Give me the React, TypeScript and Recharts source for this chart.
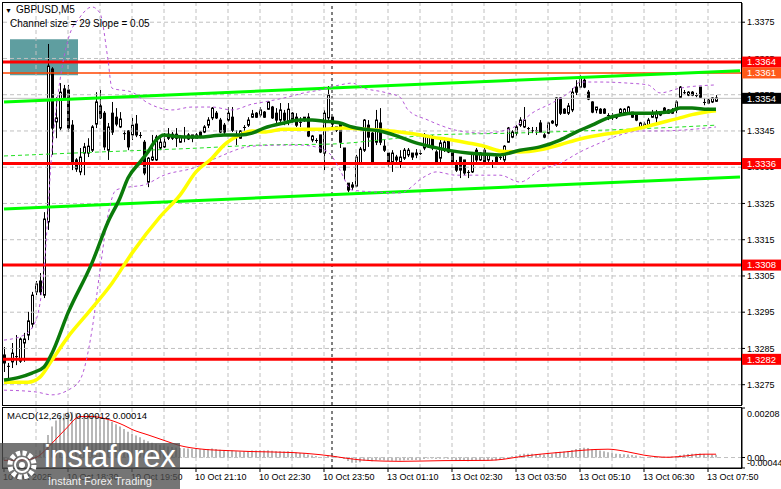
import React from 'react';
import { ComposedChart, Bar, Line, XAxis, YAxis, ReferenceLine, ReferenceArea } from 'recharts';

const FONT = "'Liberation Sans', Arial, sans-serif";

// ---- candles (GBPUSD M5) ----
const opens = [
  1.32832, 1.32802, 1.32813, 1.32826, 1.32815, 1.32865, 1.32887, 1.32917, 1.33006, 1.33036,
  1.32997, 1.33199, 1.33621, 1.33475, 1.33458, 1.33566, 1.33563, 1.33466, 1.33370, 1.33337,
  1.33389, 1.33389, 1.33397, 1.33469, 1.33519, 1.33499, 1.33397, 1.33499, 1.33488, 1.33461,
  1.33444, 1.33450, 1.33439, 1.33469, 1.33439, 1.33419, 1.33309, 1.33370, 1.33370, 1.33403,
  1.33406, 1.33441, 1.33441, 1.33441, 1.33419, 1.33433, 1.33428, 1.33430, 1.33430, 1.33447,
  1.33447, 1.33466, 1.33486, 1.33499, 1.33480, 1.33466, 1.33480, 1.33488, 1.33439, 1.33430,
  1.33458, 1.33466, 1.33488, 1.33499, 1.33494, 1.33502, 1.33510, 1.33516, 1.33499, 1.33480,
  1.33499, 1.33475, 1.33499, 1.33488, 1.33475, 1.33488, 1.33488, 1.33425, 1.33425, 1.33439,
  1.33389, 1.33486, 1.33488, 1.33452, 1.33472, 1.33403, 1.33306, 1.33295, 1.33298, 1.33361,
  1.33397, 1.33466, 1.33444, 1.33419, 1.33472, 1.33408, 1.33389, 1.33364, 1.33378, 1.33364,
  1.33375, 1.33384, 1.33389, 1.33389, 1.33389, 1.33403, 1.33406, 1.33433, 1.33392, 1.33375,
  1.33397, 1.33425, 1.33392, 1.33361, 1.33378, 1.33370, 1.33334, 1.33337, 1.33397, 1.33370,
  1.33397, 1.33370, 1.33361, 1.33378, 1.33375, 1.33370, 1.33419, 1.33433, 1.33444, 1.33466,
  1.33461, 1.33458, 1.33452, 1.33452, 1.33472, 1.33439, 1.33444, 1.33472, 1.33466, 1.33541,
  1.33510, 1.33499, 1.33508, 1.33571, 1.33571, 1.33590, 1.33557, 1.33530, 1.33508, 1.33510,
  1.33510, 1.33494, 1.33488, 1.33488, 1.33499, 1.33499, 1.33499, 1.33502, 1.33494, 1.33461,
  1.33461, 1.33466, 1.33488, 1.33486, 1.33494, 1.33513, 1.33499, 1.33499, 1.33508, 1.33543,
  1.33555, 1.33549, 1.33557, 1.33549, 1.33571, 1.33530, 1.33535, 1.33530, 1.33532,
];
const highs = [
  1.32854, 1.32810, 1.32865, 1.32887, 1.32880, 1.32893, 1.32951, 1.33006, 1.33036, 1.33058,
  1.33226, 1.33690, 1.33626, 1.33543, 1.33582, 1.33577, 1.33577, 1.33480, 1.33375, 1.33403,
  1.33417, 1.33430, 1.33466, 1.33557, 1.33563, 1.33505, 1.33472, 1.33530, 1.33513, 1.33502,
  1.33452, 1.33452, 1.33486, 1.33494, 1.33447, 1.33425, 1.33378, 1.33439, 1.33439, 1.33430,
  1.33444, 1.33458, 1.33447, 1.33458, 1.33439, 1.33461, 1.33444, 1.33439, 1.33444, 1.33450,
  1.33466, 1.33488, 1.33516, 1.33505, 1.33486, 1.33472, 1.33516, 1.33516, 1.33452, 1.33452,
  1.33466, 1.33488, 1.33508, 1.33502, 1.33516, 1.33505, 1.33532, 1.33519, 1.33513, 1.33527,
  1.33508, 1.33527, 1.33502, 1.33499, 1.33488, 1.33488, 1.33499, 1.33439, 1.33430, 1.33439,
  1.33508, 1.33574, 1.33488, 1.33461, 1.33472, 1.33403, 1.33306, 1.33309, 1.33384, 1.33406,
  1.33483, 1.33480, 1.33447, 1.33508, 1.33513, 1.33425, 1.33389, 1.33397, 1.33384, 1.33397,
  1.33403, 1.33403, 1.33389, 1.33400, 1.33397, 1.33444, 1.33439, 1.33439, 1.33397, 1.33425,
  1.33433, 1.33430, 1.33397, 1.33370, 1.33378, 1.33370, 1.33342, 1.33392, 1.33403, 1.33392,
  1.33403, 1.33389, 1.33370, 1.33381, 1.33384, 1.33411, 1.33461, 1.33452, 1.33466, 1.33488,
  1.33516, 1.33461, 1.33461, 1.33461, 1.33480, 1.33444, 1.33475, 1.33480, 1.33543, 1.33543,
  1.33513, 1.33527, 1.33568, 1.33590, 1.33604, 1.33596, 1.33563, 1.33532, 1.33516, 1.33513,
  1.33513, 1.33499, 1.33499, 1.33491, 1.33513, 1.33513, 1.33519, 1.33502, 1.33497, 1.33475,
  1.33475, 1.33486, 1.33508, 1.33508, 1.33505, 1.33516, 1.33510, 1.33513, 1.33535, 1.33574,
  1.33563, 1.33560, 1.33560, 1.33555, 1.33571, 1.33541, 1.33538, 1.33543, 1.33549,
];
const lows = [
  1.32785, 1.32757, 1.32796, 1.32804, 1.32810, 1.32813, 1.32873, 1.32906, 1.32997, 1.32997,
  1.32989, 1.33177, 1.33384, 1.33430, 1.33452, 1.33535, 1.33447, 1.33342, 1.33337, 1.33328,
  1.33328, 1.33378, 1.33392, 1.33458, 1.33483, 1.33397, 1.33370, 1.33439, 1.33463, 1.33458,
  1.33425, 1.33397, 1.33425, 1.33433, 1.33430, 1.33328, 1.33295, 1.33367, 1.33367, 1.33397,
  1.33403, 1.33425, 1.33425, 1.33406, 1.33417, 1.33419, 1.33425, 1.33419, 1.33428, 1.33430,
  1.33444, 1.33458, 1.33480, 1.33483, 1.33444, 1.33441, 1.33475, 1.33447, 1.33411, 1.33428,
  1.33450, 1.33461, 1.33486, 1.33486, 1.33488, 1.33486, 1.33508, 1.33483, 1.33472, 1.33475,
  1.33466, 1.33466, 1.33472, 1.33461, 1.33461, 1.33475, 1.33433, 1.33419, 1.33417, 1.33389,
  1.33342, 1.33480, 1.33461, 1.33447, 1.33403, 1.33315, 1.33281, 1.33287, 1.33295, 1.33356,
  1.33392, 1.33406, 1.33356, 1.33411, 1.33411, 1.33392, 1.33350, 1.33337, 1.33361, 1.33348,
  1.33370, 1.33378, 1.33370, 1.33375, 1.33384, 1.33397, 1.33403, 1.33397, 1.33356, 1.33361,
  1.33392, 1.33389, 1.33356, 1.33337, 1.33320, 1.33328, 1.33320, 1.33334, 1.33361, 1.33367,
  1.33356, 1.33361, 1.33348, 1.33359, 1.33370, 1.33361, 1.33417, 1.33430, 1.33436, 1.33461,
  1.33458, 1.33439, 1.33444, 1.33439, 1.33447, 1.33430, 1.33441, 1.33469, 1.33461, 1.33494,
  1.33497, 1.33494, 1.33502, 1.33549, 1.33568, 1.33568, 1.33535, 1.33499, 1.33499, 1.33497,
  1.33497, 1.33480, 1.33480, 1.33483, 1.33497, 1.33497, 1.33497, 1.33486, 1.33477, 1.33458,
  1.33458, 1.33461, 1.33486, 1.33472, 1.33491, 1.33499, 1.33497, 1.33497, 1.33499, 1.33541,
  1.33552, 1.33546, 1.33546, 1.33543, 1.33541, 1.33521, 1.33524, 1.33527, 1.33530,
];
const closes = [
  1.32810, 1.32799, 1.32837, 1.32829, 1.32876, 1.32876, 1.32926, 1.32997, 1.33028, 1.33006,
  1.33207, 1.33629, 1.33458, 1.33486, 1.33557, 1.33541, 1.33458, 1.33361, 1.33345, 1.33378,
  1.33406, 1.33408, 1.33461, 1.33530, 1.33486, 1.33406, 1.33461, 1.33447, 1.33469, 1.33483,
  1.33441, 1.33406, 1.33466, 1.33439, 1.33436, 1.33334, 1.33375, 1.33378, 1.33433, 1.33419,
  1.33419, 1.33430, 1.33430, 1.33430, 1.33433, 1.33436, 1.33439, 1.33439, 1.33439, 1.33433,
  1.33461, 1.33480, 1.33513, 1.33486, 1.33447, 1.33447, 1.33499, 1.33452, 1.33436, 1.33450,
  1.33461, 1.33480, 1.33497, 1.33488, 1.33508, 1.33488, 1.33530, 1.33486, 1.33480, 1.33508,
  1.33480, 1.33510, 1.33477, 1.33466, 1.33472, 1.33480, 1.33436, 1.33436, 1.33422, 1.33392,
  1.33499, 1.33549, 1.33469, 1.33461, 1.33419, 1.33342, 1.33287, 1.33301, 1.33378, 1.33400,
  1.33480, 1.33433, 1.33361, 1.33480, 1.33419, 1.33397, 1.33364, 1.33389, 1.33370, 1.33378,
  1.33397, 1.33397, 1.33378, 1.33384, 1.33386, 1.33439, 1.33433, 1.33403, 1.33364, 1.33417,
  1.33419, 1.33392, 1.33361, 1.33342, 1.33342, 1.33334, 1.33337, 1.33389, 1.33370, 1.33389,
  1.33361, 1.33384, 1.33364, 1.33361, 1.33378, 1.33408, 1.33458, 1.33447, 1.33461, 1.33480,
  1.33480, 1.33455, 1.33450, 1.33450, 1.33447, 1.33433, 1.33472, 1.33477, 1.33541, 1.33499,
  1.33499, 1.33519, 1.33557, 1.33557, 1.33599, 1.33571, 1.33538, 1.33502, 1.33516, 1.33499,
  1.33499, 1.33491, 1.33486, 1.33486, 1.33510, 1.33510, 1.33516, 1.33488, 1.33480, 1.33472,
  1.33469, 1.33480, 1.33499, 1.33499, 1.33502, 1.33502, 1.33508, 1.33508, 1.33530, 1.33571,
  1.33557, 1.33557, 1.33549, 1.33546, 1.33543, 1.33527, 1.33527, 1.33541, 1.33541,
];

// ---- indicator lines (read at sample candles) ----
const maFastIdx = [0, 4, 7, 10, 12, 16, 22, 26, 29, 31, 34, 36, 38, 40, 42, 45, 49, 52, 55, 59, 62, 65, 70, 74, 77, 80, 84, 87, 90, 94, 99, 103, 107, 112, 116, 120, 124, 129, 134, 139, 143, 147, 151, 154, 157, 162, 166, 169, 172, 176, 178];
const maFastVal = [1.32763, 1.32771, 1.32782, 1.32799, 1.32837, 1.32948, 1.33086, 1.33199, 1.33265, 1.33320, 1.33364, 1.33392, 1.33425, 1.33439, 1.33436, 1.33433, 1.33433, 1.33436, 1.33439, 1.33439, 1.33444, 1.33458, 1.33472, 1.33480, 1.33480, 1.33477, 1.33472, 1.33461, 1.33455, 1.33450, 1.33433, 1.33417, 1.33406, 1.33395, 1.33389, 1.33386, 1.33384, 1.33397, 1.33406, 1.33425, 1.33447, 1.33466, 1.33486, 1.33494, 1.33499, 1.33499, 1.33502, 1.33513, 1.33513, 1.33510, 1.33510];

const maSlowIdx = [0, 6, 9, 12, 16, 21, 27, 32, 39, 44, 48, 52, 55, 59, 62, 65, 70, 77, 80, 85, 90, 95, 99, 103, 107, 112, 116, 120, 124, 129, 134, 139, 144, 149, 154, 159, 164, 169, 172, 176, 178];
const maSlowVal = [1.32757, 1.32757, 1.32771, 1.32818, 1.32882, 1.32948, 1.33030, 1.33113, 1.33213, 1.33273, 1.33337, 1.33375, 1.33411, 1.33439, 1.33450, 1.33447, 1.33455, 1.33455, 1.33455, 1.33458, 1.33455, 1.33452, 1.33447, 1.33441, 1.33433, 1.33425, 1.33417, 1.33408, 1.33395, 1.33392, 1.33398, 1.33412, 1.33428, 1.33439, 1.33447, 1.33458, 1.33472, 1.33486, 1.33495, 1.33503, 1.33506];

const maDashIdx = [0, 24, 49, 64, 82, 94, 107, 127, 149, 169, 178];
const maDashVal = [1.33381, 1.33392, 1.33403, 1.33411, 1.33414, 1.33425, 1.33439, 1.33444, 1.33452, 1.33461, 1.33466];

const bandUpIdx = [0, 5, 8, 10, 12, 14, 16, 19, 22, 24, 26, 27, 32, 36, 42, 47, 52, 57, 62, 65, 70, 75, 79, 84, 87, 90, 95, 99, 101, 106, 109, 113, 120, 127, 129, 132, 137, 142, 144, 149, 156, 161, 164, 169, 178];
const bandUpVal = [1.32873, 1.32887, 1.32928, 1.33066, 1.33397, 1.33590, 1.33701, 1.33764, 1.33792, 1.33775, 1.33646, 1.33568, 1.33557, 1.33527, 1.33508, 1.33516, 1.33516, 1.33508, 1.33524, 1.33530, 1.33541, 1.33555, 1.33563, 1.33577, 1.33582, 1.33568, 1.33557, 1.33543, 1.33508, 1.33480, 1.33466, 1.33452, 1.33444, 1.33458, 1.33472, 1.33499, 1.33527, 1.33563, 1.33585, 1.33585, 1.33582, 1.33577, 1.33555, 1.33568, 1.33577];

const bandLowIdx = [0, 8, 12, 16, 19, 22, 24, 26, 28, 31, 35, 40, 48, 53, 62, 70, 74, 79, 82, 84, 87, 94, 99, 105, 108, 113, 120, 124, 129, 134, 139, 144, 149, 154, 159, 164, 169, 178];
const bandLowVal = [1.32735, 1.32730, 1.32722, 1.32735, 1.32763, 1.32901, 1.33066, 1.33218, 1.33287, 1.33295, 1.33301, 1.33328, 1.33350, 1.33375, 1.33408, 1.33411, 1.33411, 1.33403, 1.33380, 1.33342, 1.33287, 1.33281, 1.33279, 1.33323, 1.33337, 1.33328, 1.33328, 1.33328, 1.33309, 1.33342, 1.33361, 1.33392, 1.33417, 1.33439, 1.33450, 1.33450, 1.33452, 1.33461];

const channelIdx = [0, 184];
const channelUpVal = [1.33530, 1.33616];
const channelLowVal = [1.33235, 1.33323];

// ---- MACD(12,26,9) ----
const macdHist = [
  -0.00012, -0.00014, -0.00013, -0.00012, -0.00010, -0.00008, -0.00004, 0.00002, 0.00010, 0.00030,
  0.00060, 0.00095, 0.00130, 0.00155, 0.00172, 0.00185, 0.00192, 0.00190, 0.00186, 0.00183,
  0.00182, 0.00180, 0.00178, 0.00176, 0.00170, 0.00165, 0.00158, 0.00150, 0.00140, 0.00130,
  0.00120, 0.00108, 0.00100, 0.00092, 0.00085, 0.00075, 0.00068, 0.00062, 0.00058, 0.00054,
  0.00050, 0.00046, 0.00044, 0.00042, 0.00040, 0.00039, 0.00038, 0.00037, 0.00036, 0.00035,
  0.00035, 0.00036, 0.00038, 0.00036, 0.00033, 0.00030, 0.00031, 0.00029, 0.00026, 0.00025,
  0.00026, 0.00027, 0.00029, 0.00029, 0.00030, 0.00029, 0.00031, 0.00028, 0.00026, 0.00026,
  0.00025, 0.00026, 0.00024, 0.00021, 0.00019, 0.00018, 0.00013, 0.00009, 0.00006, 0.00002,
  0.00004, 0.00010, 0.00008, 0.00006, 0.00002, -0.00006, -0.00015, -0.00022, -0.00022, -0.00020,
  -0.00013, -0.00012, -0.00016, -0.00011, -0.00010, -0.00011, -0.00014, -0.00014, -0.00014, -0.00013,
  -0.00011, -0.00010, -0.00010, -0.00010, -0.00010, -0.00006, -0.00004, -0.00004, -0.00006, -0.00005,
  -0.00004, -0.00005, -0.00008, -0.00011, -0.00013, -0.00015, -0.00016, -0.00013, -0.00012, -0.00011,
  -0.00012, -0.00011, -0.00011, -0.00011, -0.00010, -0.00006, 0.00002, 0.00005, 0.00009, 0.00013,
  0.00016, 0.00016, 0.00016, 0.00015, 0.00015, 0.00013, 0.00015, 0.00016, 0.00023, 0.00024,
  0.00025, 0.00027, 0.00032, 0.00036, 0.00040, 0.00041, 0.00040, 0.00035, 0.00032, 0.00029,
  0.00026, 0.00022, 0.00019, 0.00016, 0.00015, 0.00014, 0.00013, 0.00011, 0.00008, 0.00004,
  0.00001, 0.00000, 0.00001, 0.00002, 0.00002, 0.00003, 0.00003, 0.00004, 0.00006, 0.00011,
  0.00013, 0.00015, 0.00016, 0.00016, 0.00017, 0.00015, 0.00014, 0.00013, 0.00012,
];
const signalIdx = [0, 5, 8, 10, 12, 14, 16, 18, 19, 22, 26, 30, 32, 36, 40, 44, 49, 56, 62, 72, 79, 82, 86, 89, 95, 99, 110, 121, 125, 128, 134, 140, 145, 151, 155, 160, 166, 170, 175, 178];
const signalVal = [-0.00012, -0.00010, 0.00000, 0.00025, 0.00060, 0.00095, 0.00130, 0.00165, 0.00172, 0.00172, 0.00160, 0.00135, 0.00118, 0.00095, 0.00072, 0.00050, 0.00036, 0.00029, 0.00025, 0.00021, 0.00012, 0.00006, -0.00004, -0.00010, -0.00015, -0.00016, -0.00013, -0.00012, -0.00007, 0.00001, 0.00014, 0.00023, 0.00031, 0.00035, 0.00027, 0.00010, 0.00001, 0.00006, 0.00014, 0.00014];
const macdSignalLast = 0.00014;

// ---- axes / levels ----
const SLOTS = 185;
const labelIdx = [0, 16, 32, 48, 64, 80, 96, 112, 128, 144, 160, 176];
const labelText = ['10 Oct 2025', '10 Oct 18:30', '10 Oct 19:50', '10 Oct 21:10', '10 Oct 22:30', '10 Oct 23:50', '13 Oct 01:10', '13 Oct 02:30', '13 Oct 03:50', '13 Oct 05:10', '13 Oct 06:30', '13 Oct 07:50'];
const gridIdx = [8, 16, 24, 32, 40, 48, 56, 64, 72, 80, 88, 96, 104, 112, 120, 128, 136, 144, 152, 160, 168, 176];
const daySeparatorIdx = 82;
const priceTicks = [1.3275, 1.3285, 1.3295, 1.3305, 1.3315, 1.3325, 1.3335, 1.3345, 1.3355, 1.3365, 1.3375];
const priceDomain = [1.32694, 1.33803];
const redLevels = [1.3364, 1.3336, 1.3308, 1.3282];
const orangeLevel = 1.3361;
const lastPrice = 1.3354;
const zoneIdx = [2, 18];
const zonePrice = [1.33604, 1.33703];
const macdDomain = [-0.00044, 0.00208];
const macdTicks = [-0.00044, 0, 0.00208];

const toMap = (idx: number[], val: number[]) => {
  const m: Record<number, number> = {};
  idx.forEach((k, j) => { m[k] = val[j]; });
  return m;
};
const mFast = toMap(maFastIdx, maFastVal);
const mSlow = toMap(maSlowIdx, maSlowVal);
const mDash = toMap(maDashIdx, maDashVal);
const mUp = toMap(bandUpIdx, bandUpVal);
const mLow = toMap(bandLowIdx, bandLowVal);
const mChU = toMap(channelIdx, channelUpVal);
const mChL = toMap(channelIdx, channelLowVal);
const mSig = toMap(signalIdx, signalVal);

const rows = Array.from({ length: SLOTS }, (_, i) => {
  const has = i < opens.length;
  return {
    idx: i,
    o: has ? opens[i] : null,
    h: has ? highs[i] : null,
    l: has ? lows[i] : null,
    c: has ? closes[i] : null,
    range: has ? [lows[i], highs[i]] : null,
    maFast: mFast[i] ?? null,
    maSlow: mSlow[i] ?? null,
    maDash: mDash[i] ?? null,
    bandUp: mUp[i] ?? null,
    bandLow: mLow[i] ?? null,
    chUp: mChU[i] ?? null,
    chLow: mChL[i] ?? null,
    hist: has ? macdHist[i] : null,
    signal: mSig[i] ?? null,
  };
});

const Candle = (props: any) => {
  const { x, y, width, height, payload } = props;
  if (!payload || payload.o == null || !isFinite(y) || !isFinite(height)) return <g />;
  const { o, h, l, c } = payload;
  const top = Math.min(y, y + height);
  const hgt = Math.abs(height);
  const ppx = h - l > 0 ? hgt / (h - l) : 0;
  const yO = top + (h - o) * ppx;
  const yC = top + (h - c) * ppx;
  const px = Math.round(x + width / 2);
  const bTop = Math.min(yO, yC);
  const bH = Math.abs(yO - yC);
  const bull = c > o;
  return (
    <g>
      <line x1={px + 0.5} x2={px + 0.5} y1={top} y2={top + hgt} stroke="#000" strokeWidth={1} />
      {bH < 1.2 ? (
        <line x1={px - 1} x2={px + 2} y1={bTop + 0.5} y2={bTop + 0.5} stroke="#000" strokeWidth={1} />
      ) : (
        <rect x={px - 0.5} y={bTop} width={2} height={bH} fill={bull ? '#fff' : '#000'} stroke="#000" strokeWidth={1} />
      )}
    </g>
  );
};

const Tag = (props: any) => {
  const { viewBox, text, bg, fg } = props;
  if (!viewBox) return null;
  const x = viewBox.x + viewBox.width;
  const y = viewBox.y;
  return (
    <g>
      <rect x={x} y={y - 5.5} width={40} height={11} fill={bg} />
      <text x={x + 5} y={y} dy="0.35em" fontSize={9.5} fill={fg} fontFamily={FONT}>{text}</text>
    </g>
  );
};

const TimeTick = (props: any) => {
  const { x, y, payload } = props;
  const k = labelIdx.indexOf(payload.value);
  if (k < 0) return <g />;
  return (
    <text x={x - 1} y={y} dy="0.71em" fontSize={9} fill="#000" fontFamily={FONT} textAnchor="start">{labelText[k]}</text>
  );
};

const MacdTick = (props: any) => {
  const { x, y, payload } = props;
  const v = payload.value;
  const txt = v === 0 ? '0.00' : v.toFixed(5);
  const dy = v > 0.001 ? 6 : v < 0 ? -5 : 0;
  return (
    <text x={x} y={y + dy} dy="0.35em" fontSize={9} fill="#000" fontFamily={FONT} textAnchor="start">{txt}</text>
  );
};

const GRID = '#c0c0c0';

export default function App() {
  const lastHist = macdHist[macdHist.length - 1];
  return (
    <div style={{ position: 'absolute', left: 0, top: 0, width: 781, height: 489, background: '#fff', overflow: 'hidden', fontFamily: FONT }}>
      <div style={{ position: 'absolute', left: 0, top: 0 }}>
        <ComposedChart width={781} height={405} data={rows} margin={{ top: 3, right: 0, bottom: 0, left: 2 }} barCategoryGap={0} barGap={0}>
          <XAxis dataKey="idx" type="category" hide />
          <YAxis
            orientation="right"
            type="number"
            width={39}
            domain={priceDomain}
            ticks={priceTicks}
            interval={0}
            allowDataOverflow
            tickFormatter={(v: number) => v.toFixed(4)}
            tick={{ fontSize: 9, fill: '#000', fontFamily: FONT }}
            tickSize={3}
            tickMargin={2}
            tickLine={{ stroke: '#000' }}
            axisLine={{ stroke: '#000' }}
          />
          <ReferenceArea x1={zoneIdx[0]} x2={zoneIdx[1]} y1={zonePrice[0]} y2={zonePrice[1]} fill="#5f9ea0" fillOpacity={1} stroke="none" />
          {gridIdx.map((g) => (
            <ReferenceLine key={'vg' + g} x={g} stroke={GRID} strokeDasharray="4 3" />
          ))}
          {priceTicks.map((p) => (
            <ReferenceLine key={'hg' + p} y={p} stroke={GRID} strokeDasharray="4 3" />
          ))}
          <ReferenceLine x={daySeparatorIdx} stroke="#000" strokeDasharray="3 3" />
          <ReferenceLine y={lastPrice} stroke="#c0c0c0" strokeWidth={1} />
          {redLevels.map((p) => (
            <ReferenceLine key={'r' + p} y={p} stroke="#ff0000" strokeWidth={3} />
          ))}
          <ReferenceLine y={orangeLevel} stroke="#ff4500" strokeWidth={1.5} />
          <Line dataKey="chUp" stroke="#00ff00" strokeWidth={3} dot={false} connectNulls type="linear" isAnimationActive={false} />
          <Line dataKey="chLow" stroke="#00ff00" strokeWidth={3} dot={false} connectNulls type="linear" isAnimationActive={false} />
          <Bar dataKey={(d: any) => d.range} shape={(p: any) => <Candle {...p} />} isAnimationActive={false} />
          <Line dataKey="maDash" stroke="#22e022" strokeWidth={1} strokeDasharray="4 3" dot={false} connectNulls type="monotone" isAnimationActive={false} />
          <Line dataKey="bandUp" stroke="#b65ad8" strokeWidth={1} strokeDasharray="3 3" dot={false} connectNulls type="monotone" isAnimationActive={false} />
          <Line dataKey="bandLow" stroke="#b65ad8" strokeWidth={1} strokeDasharray="3 3" dot={false} connectNulls type="monotone" isAnimationActive={false} />
          <Line dataKey="maSlow" stroke="#ffff00" strokeWidth={3.5} dot={false} connectNulls type="monotone" isAnimationActive={false} />
          <Line dataKey="maFast" stroke="#0a7a0a" strokeWidth={3.5} dot={false} connectNulls type="monotone" isAnimationActive={false} />
        </ComposedChart>
      </div>

      {/* price tags layer (on top of the axis labels) */}
      <div style={{ position: 'absolute', left: 0, top: 0, pointerEvents: 'none' }}>
        <ComposedChart width={781} height={405} data={rows} margin={{ top: 3, right: 39, bottom: 0, left: 2 }}>
          <XAxis dataKey="idx" type="category" hide />
          <YAxis type="number" hide domain={priceDomain} allowDataOverflow />
          <ReferenceLine y={lastPrice} stroke="none" strokeOpacity={0} label={<Tag text={lastPrice.toFixed(4)} bg="#000" fg="#fff" />} />
          {redLevels.map((p) => (
            <ReferenceLine key={'t' + p} y={p} stroke="none" strokeOpacity={0} label={<Tag text={p.toFixed(4)} bg="#ff0000" fg="#fff" />} />
          ))}
          <ReferenceLine y={orangeLevel} stroke="none" strokeOpacity={0} label={<Tag text={orangeLevel.toFixed(4)} bg="#ff5a1a" fg="#fff" />} />
        </ComposedChart>
      </div>

      <div style={{ position: 'absolute', left: 0, top: 400 }}>
        <ComposedChart width={781} height={89} data={rows} margin={{ top: 8, right: 0, bottom: 0, left: 2 }} barCategoryGap={0}>
          <XAxis
            dataKey="idx"
            type="category"
            ticks={labelIdx}
            interval={0}
            height={21}
            tick={(p: any) => <TimeTick {...p} />}
            tickSize={4}
            tickMargin={2}
            tickLine={{ stroke: '#000' }}
            axisLine={{ stroke: '#000' }}
          />
          <YAxis
            orientation="right"
            type="number"
            width={39}
            domain={macdDomain}
            ticks={macdTicks}
            interval={0}
            allowDataOverflow
            tick={(p: any) => <MacdTick {...p} />}
            tickSize={3}
            tickMargin={2}
            tickLine={{ stroke: '#000' }}
            axisLine={{ stroke: '#000' }}
          />
          {gridIdx.map((g) => (
            <ReferenceLine key={'mvg' + g} x={g} stroke={GRID} strokeDasharray="4 3" />
          ))}
          <ReferenceLine x={daySeparatorIdx} stroke="#000" strokeDasharray="3 3" />
          <ReferenceLine y={0} stroke={GRID} strokeDasharray="4 3" />
          <Bar dataKey="hist" fill="#b8b8b8" barSize={2} isAnimationActive={false} />
          <Line dataKey="signal" stroke="#ff0000" strokeWidth={1} dot={false} connectNulls type="monotone" isAnimationActive={false} />
        </ComposedChart>
      </div>

      {/* panel frames */}
      <div style={{ position: 'absolute', left: 2, top: 2, width: 740, height: 404, border: '1px solid #000', boxSizing: 'border-box', pointerEvents: 'none' }} />
      <div style={{ position: 'absolute', left: 2, top: 407, width: 740, height: 62, border: '1px solid #000', boxSizing: 'border-box', pointerEvents: 'none' }} />

      {/* captions */}
      <div style={{ position: 'absolute', left: 5, top: 4, fontSize: 10, color: '#000', whiteSpace: 'nowrap' }}>
        <span style={{ fontSize: 7, marginRight: 4 }}>▼</span>GBPUSD,M5
      </div>
      <div style={{ position: 'absolute', left: 10, top: 18, fontSize: 10, color: '#000', whiteSpace: 'nowrap' }}>
        Channel size = 29 Slope = 0.05
      </div>
      <div style={{ position: 'absolute', left: 7, top: 410, fontSize: 9.5, color: '#000', whiteSpace: 'nowrap' }}>
        MACD(12,26,9) {lastHist.toFixed(5)} {macdSignalLast.toFixed(5)}
      </div>

      {/* watermark */}
      <div style={{ position: 'absolute', left: 0, top: 443, width: 180, height: 46, background: 'rgba(78,78,78,0.78)', pointerEvents: 'none' }}>
        <svg width={42} height={46} style={{ position: 'absolute', left: 2, top: 0 }}>
          <circle cx={20} cy={22} r={12} fill="none" stroke="#fff" strokeWidth={5} strokeDasharray="4 2.3" />
          <circle cx={20} cy={22} r={7} fill="none" stroke="#fff" strokeWidth={2} />
          <circle cx={20} cy={22} r={3} fill="#fff" />
        </svg>
        <div style={{ position: 'absolute', left: 44, top: -3, fontSize: 31, color: '#fff', lineHeight: '34px', letterSpacing: -0.3 }}>instaforex</div>
        <div style={{ position: 'absolute', left: 48, top: 32, fontSize: 11, color: '#f0f0f0', lineHeight: '13px' }}>Instant Forex Trading</div>
      </div>
    </div>
  );
}
